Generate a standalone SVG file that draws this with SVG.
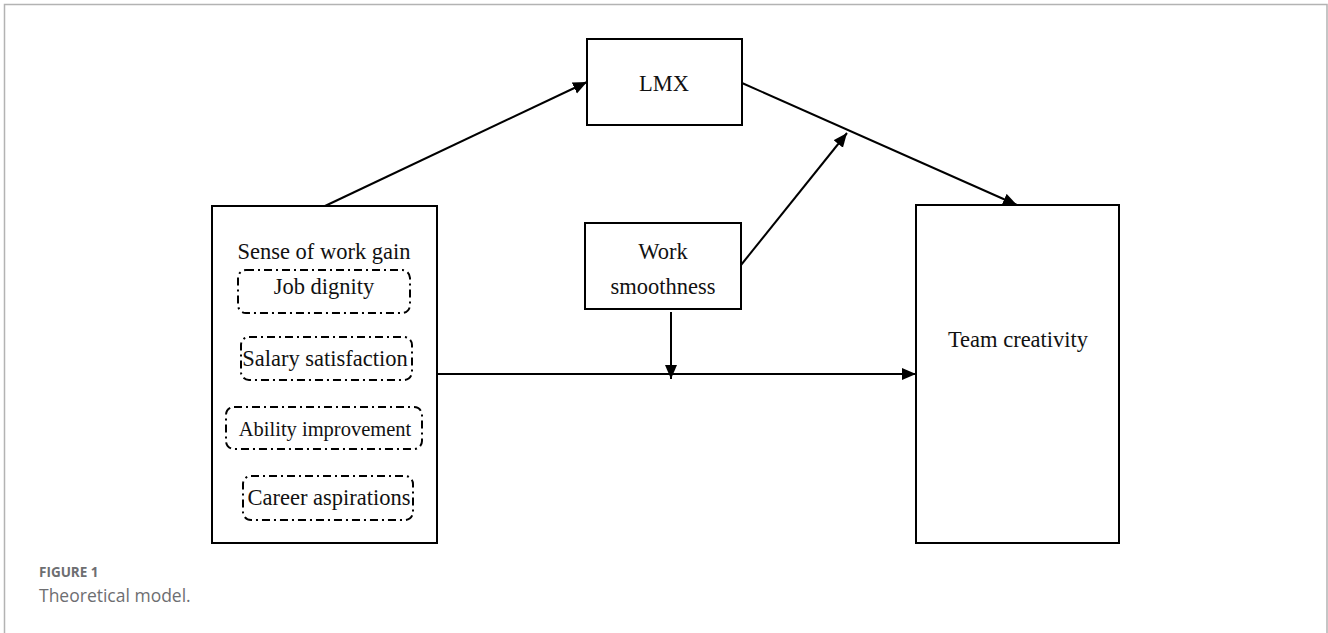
<svg xmlns="http://www.w3.org/2000/svg" width="1328" height="633" viewBox="0 0 1328 633">
  <style>
    .box { fill: #ffffff; stroke: #000000; stroke-width: 2; }
    .dim { fill: none; stroke: #000000; stroke-width: 2; stroke-dasharray: 8 4 2 4; }
    .lbl { font-family: "Liberation Serif", "Times New Roman", serif; font-size: 22.5px; fill: #111111; text-anchor: middle; }
    .conn { stroke: #000000; stroke-width: 2; fill: none; marker-end: url(#arr); }
    .frame { fill: none; stroke: #b3b3b3; stroke-width: 1.5; }
    .cap1 { font-family: "Open Sans", "Liberation Sans", sans-serif; font-size: 13.5px; font-weight: bold; fill: #6d6e71; }
    .cap2 { font-family: "Open Sans", "Liberation Sans", sans-serif; font-size: 17.5px; fill: #6d6e71; }
  </style>
  <defs>
    <marker id="arr" markerUnits="userSpaceOnUse" markerWidth="15" markerHeight="13" refX="14" refY="6" orient="auto">
      <path d="M0,0 L14,6 L0,12 z" fill="#000000"/>
    </marker>
  </defs>
  <rect width="1328" height="633" fill="#ffffff"/>
  <path class="frame" d="M4.5,640 V4.5 H1327 V640"/>

  <g id="connectors">
    <line class="conn" x1="325" y1="206" x2="587" y2="82"/>
    <line class="conn" x1="742" y1="83" x2="1017" y2="205"/>
    <line class="conn" x1="741" y1="265" x2="847" y2="133"/>
    <line class="conn" x1="671" y1="312" x2="671" y2="379"/>
    <line class="conn" x1="437" y1="374" x2="916" y2="374"/>
  </g>

  <g id="node-sense">
    <rect class="box" x="212" y="206" width="225" height="337"/>
    <text class="lbl" x="324" y="259">Sense of work gain</text>
    <g id="node-job-dignity">
      <rect class="dim" x="238" y="270" width="172" height="43" rx="8"/>
      <text class="lbl" x="324" y="294">Job dignity</text>
    </g>
    <g id="node-salary">
      <rect class="dim" x="241" y="337" width="171" height="43" rx="8"/>
      <text class="lbl" x="325" y="366">Salary satisfaction</text>
    </g>
    <g id="node-ability">
      <rect class="dim" x="226" y="407" width="196" height="42" rx="8"/>
      <text class="lbl" x="325" y="436" style="font-size:20.5px">Ability improvement</text>
    </g>
    <g id="node-career">
      <rect class="dim" x="243" y="476" width="170" height="44" rx="8"/>
      <text class="lbl" x="329" y="505">Career aspirations</text>
    </g>
  </g>

  <g id="node-lmx">
    <rect class="box" x="587" y="39" width="155" height="86"/>
    <text class="lbl" x="664" y="91">LMX</text>
  </g>

  <g id="node-work-smoothness">
    <rect class="box" x="585" y="223" width="156" height="86"/>
    <text class="lbl" x="663" y="259">Work</text>
    <text class="lbl" x="663" y="294">smoothness</text>
  </g>

  <g id="node-team">
    <rect class="box" x="916" y="205" width="203" height="338"/>
    <text class="lbl" x="1018" y="347">Team creativity</text>
  </g>

  <g id="caption">
    <text class="cap1" x="39" y="577">FIGURE 1</text>
    <text class="cap2" x="39" y="602">Theoretical model.</text>
  </g>
</svg>
